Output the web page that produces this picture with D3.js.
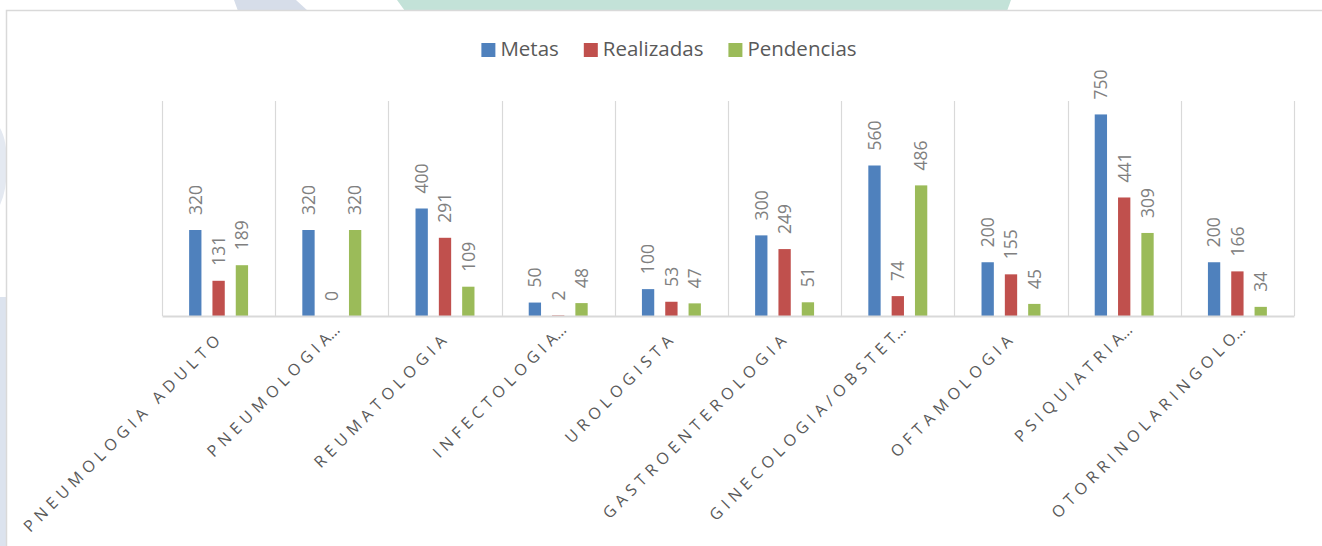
<!DOCTYPE html>
<html>
<head>
<meta charset="utf-8">
<script src="https://cdn.jsdelivr.net/npm/d3@7"></script>
<style>
  html, body { margin: 0; padding: 0; background: #ffffff; }
  svg { display: block; }
</style>
</head>
<body>
<svg id="chart" width="1322" height="546"></svg>
<script>
// ---- DATA ----
const categories = [
  "PNEUMOLOGIA ADULTO",
  "PNEUMOLOGIA…",
  "REUMATOLOGIA",
  "INFECTOLOGIA…",
  "UROLOGISTA",
  "GASTROENTEROLOGIA",
  "GINECOLOGIA/OBSTET…",
  "OFTAMOLOGIA",
  "PSIQUIATRIA…",
  "OTORRINOLARINGOLO…"
];
const seriesNames = ["Metas", "Realizadas", "Pendencias"];
const metas      = [320, 320, 400, 50, 100, 300, 560, 200, 750, 200];
const realizadas = [131,   0, 291,  2,  53, 249,  74, 155, 441, 166];
const pendencias = [189, 320, 109, 48,  47,  51, 486,  45, 309,  34];
const seriesColors = ["#4F81BD", "#C0504D", "#9BBB59"];
const yDomain = [0, 800];

// ---- LAYOUT ----
const svg = d3.select("#chart");
const W = 1322, H = 546;
const plot = { left: 162, right: 1294, top: 101, bottom: 316 };

// background decorative shapes (behind chart area)
const bg = svg.append("g");
bg.append("polygon").attr("points", "234,0 296,0 308,11 238,11").attr("fill", "#D6DDE9");
bg.append("polygon").attr("points", "397,0 1011,0 1007,11 405,11").attr("fill", "#C3E2D8");
bg.append("rect").attr("x", 0).attr("y", 297).attr("width", 7).attr("height", H - 297).attr("fill", "#DCE3EE");
bg.append("path").attr("d", "M0,128 Q7,140 7,165 Q7,190 0,205 Z").attr("fill", "#E4E9F1");

// chart area
svg.append("rect")
  .attr("x", 6.5).attr("y", 10.5)
  .attr("width", W + 10).attr("height", H + 10)
  .attr("fill", "#ffffff")
  .attr("stroke", "#D9D9D9").attr("stroke-width", 1.5);

const x0 = d3.scaleBand().domain(categories).range([plot.left, plot.right]).paddingInner(0).paddingOuter(0);
const bw = x0.bandwidth();
const groupW = bw * 0.618;
const x1 = d3.scaleBand().domain(seriesNames)
  .range([bw / 2 - groupW / 2, bw / 2 + groupW / 2])
  .paddingInner(0.472).paddingOuter(0.236);
const y = d3.scaleLinear().domain(yDomain).range([plot.bottom, plot.top]);

// vertical category separators
const sepPositions = categories.map(c => x0(c)).concat([plot.right]);
svg.append("g").selectAll("line").data(sepPositions).join("line")
  .attr("x1", d => Math.round(d) + 0.5).attr("x2", d => Math.round(d) + 0.5)
  .attr("y1", plot.top).attr("y2", plot.bottom)
  .attr("stroke", "#D9D9D9").attr("stroke-width", 1.2);

// bars
const seriesData = [metas, realizadas, pendencias];
const rows = [];
categories.forEach((c, i) => {
  seriesNames.forEach((s, j) => rows.push({ c, s, j, v: seriesData[j][i] }));
});

svg.append("g").selectAll("rect").data(rows).join("rect")
  .attr("x", d => x0(d.c) + x1(d.s))
  .attr("width", x1.bandwidth())
  .attr("y", d => y(d.v))
  .attr("height", d => y(0) - y(d.v))
  .attr("fill", d => seriesColors[d.j]);

// baseline axis
svg.append("g")
  .attr("transform", `translate(0,${plot.bottom})`)
  .call(d3.axisBottom(x0).tickSize(0).tickFormat(""))
  .call(g => g.select(".domain").attr("stroke", "#D9D9D9").attr("stroke-width", 2));

// data labels (rotated)
svg.append("g").selectAll("text").data(rows).join("text")
  .attr("transform", d => `translate(${x0(d.c) + x1(d.s) + x1.bandwidth() / 2},${y(d.v) - 15}) rotate(-90)`)
  .attr("dy", "0.36em")
  .attr("text-anchor", "start")
  .attr("font-family", "'Open Sans', sans-serif")
  .attr("font-size", 17.5)
  .attr("fill", "#808080")
  .text(d => d.v);

// category labels (rotated -45)
const catLabels = svg.append("g").selectAll("text").data(categories).join("text")
  .attr("transform", c => {
    const cx = x0(c) + bw / 2;
    const ell = c.endsWith("…");
    const dx = ell ? 9 : 2.5;
    const dy = ell ? 331 - plot.bottom : 342 - plot.bottom;
    return `translate(${cx + dx},${plot.bottom + dy}) rotate(-45)`;
  })
  .attr("text-anchor", "end")
  .attr("font-family", "'Open Sans', sans-serif")
  .attr("font-size", 16)
  .attr("fill", "#595959");
catLabels.append("tspan")
  .attr("letter-spacing", 5.1)
  .text(c => c.endsWith("…") ? c.slice(0, -2) : c.slice(0, -1));
catLabels.append("tspan")
  .attr("letter-spacing", 0)
  .text(c => c.endsWith("…") ? c.slice(-2) : c.slice(-1));

// legend
const legend = svg.append("g");
const items = legend.selectAll("g").data(seriesNames).join("g");
items.append("rect").attr("width", 14).attr("height", 14).attr("y", 43)
  .attr("fill", (d, i) => seriesColors[i]);
items.append("text").attr("x", 19).attr("y", 55.5)
  .attr("font-family", "'Open Sans', sans-serif")
  .attr("font-size", 20.5)
  .attr("fill", "#595959")
  .text(d => d);
let cursor = 0;
const offsets = [];
items.each(function () {
  const tw = d3.select(this).select("text").node().getComputedTextLength();
  offsets.push(cursor);
  cursor += 19 + tw + 25;
});
const totalW = cursor - 25;
const legendStart = 669 - totalW / 2;
items.attr("transform", (d, i) => `translate(${legendStart + offsets[i]},0)`);
</script>
</body>
</html>
